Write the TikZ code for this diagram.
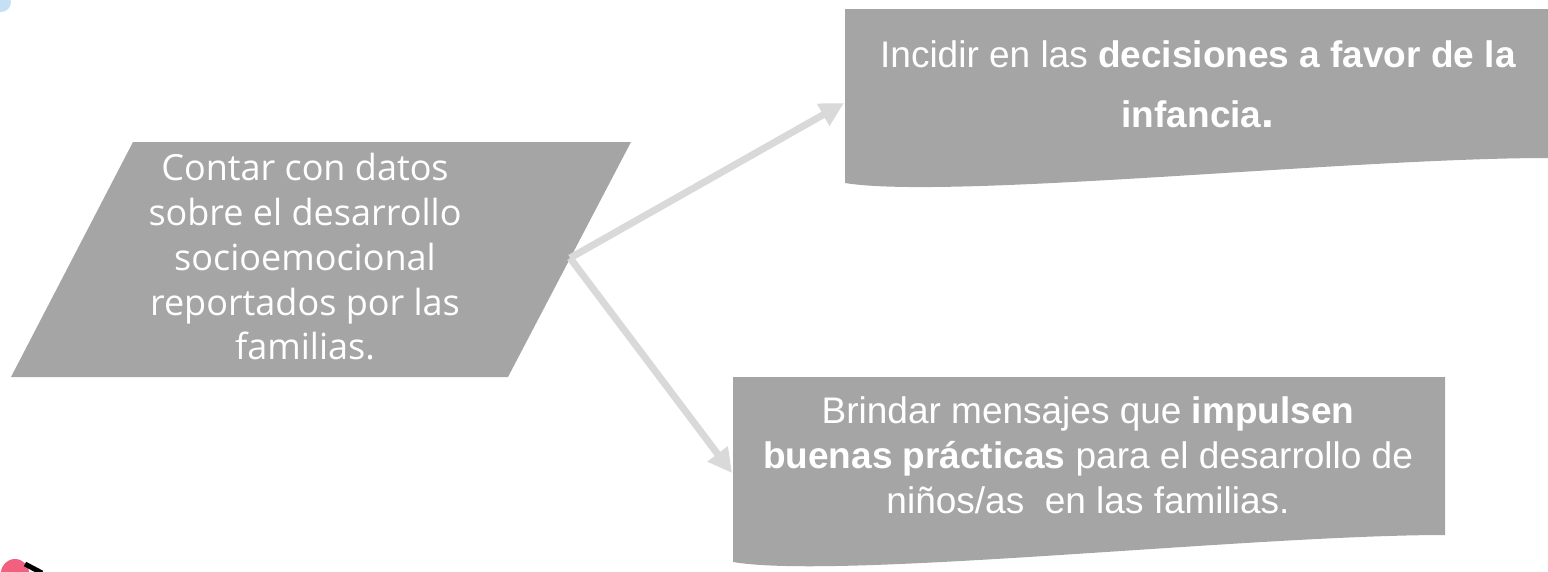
\documentclass[tikz,border=0pt]{standalone}
\usepackage{fontspec}
\setmainfont{Liberation Sans}
\newfontfamily\osans{Open Sans}
\usetikzlibrary{arrows.meta}
\definecolor{boxgray}{HTML}{A5A5A5}
\definecolor{arrowgray}{HTML}{D9D9D9}
\definecolor{dotblue}{HTML}{C5E0F4}
\definecolor{dotpink}{HTML}{F2607F}
\begin{document}
\begin{tikzpicture}[x=1pt,y=-1pt,
  shapefill/.style={fill=boxgray,draw=none},
  conn/.style={draw=arrowgray,line width=7pt,-{Triangle[length=24pt,width=24pt]}},
  paratext/.style={text=white,align=center,inner sep=0pt,font=\osans\fontsize{36}{44.75}\selectfont},
  boxtext/.style={text=white,align=center,inner sep=0pt}]
\useasboundingbox (0,0) rectangle (1548,571);
% decorations at corners
\fill[dotblue] (1,2) circle (10);
\fill[dotpink] (15,573) circle (14);
\draw[black,line width=5pt] (25,564) -- (42,573);
% shapes
\fill[shapefill] (133,142) -- (631,142) -- (508,377) -- (11,377) -- cycle;
\fill[shapefill] (845,9) -- (1548,9) -- (1548,158)
  .. controls (1350,158) and (950,200) .. (845,183) -- cycle;
\fill[shapefill] (733,377) -- (1445,377) -- (1445,535)
  .. controls (1250,535) and (840,580) .. (733,562) -- cycle;
% texts
\node[paratext] (src) at (305,257) {Contar con datos\\sobre el desarrollo\\socioemocional\\reportados por las\\familias.};
\node[boxtext,font=\fontsize{37}{60}\selectfont] (top) at (1198,84)
  {Incidir en las \textbf{decisiones a favor de la}\\\textbf{infancia{\fontsize{46}{46}\selectfont.}}};
\node[boxtext,font=\fontsize{37}{45}\selectfont] (bot) at (1088,455)
  {Brindar mensajes que \textbf{impulsen}\\\textbf{buenas prácticas} para el desarrollo de\\niños/as~ en las familias.};
% connectors
\coordinate (from) at (570,258);
\coordinate (totop) at (844,103);
\coordinate (tobot) at (732,473);
\draw[conn] (from) -- (totop);
\draw[conn] (from) -- (tobot);
\end{tikzpicture}
\end{document}
